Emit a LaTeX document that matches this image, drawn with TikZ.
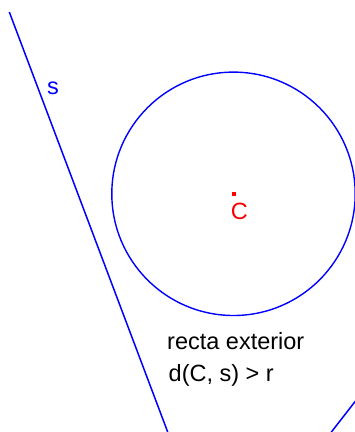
\documentclass[tikz,border=0pt]{standalone}
\usepackage{fontspec}
\setmainfont{Liberation Sans}
\begin{document}
\begin{tikzpicture}[x=1pt,y=-1pt,
  lbl/.style={anchor=base west,inner sep=0pt,font=\fontsize{23.5}{28}\selectfont},
  geo/.style={draw=blue,line width=1.5pt}]
\useasboundingbox (0,0) rectangle (355,432);
\coordinate (s1) at (9.3,12);
\coordinate (s2) at (167.7,432);
\coordinate (t1) at (355.5,401);
\coordinate (t2) at (331,432.5);
\coordinate (C) at (233.5,193.8);
\draw[geo] (s1) -- (s2);
\draw[geo] (t1) -- (t2);
\draw[geo,line width=1.4pt] (C) circle[radius=121.7];
\node[fill=red,minimum size=4pt,inner sep=0pt] (dot) at (234.3,194) {};
\node[lbl,text=red] (lc) at (230.6,219.3) {C};
\node[lbl,text=blue] (ls) at (47,94) {s};
\node[lbl] (l1) at (167,349.3) {recta exterior};
\node[lbl] (l2) at (168.5,381) {d(C, s) > r};
\end{tikzpicture}
\end{document}
